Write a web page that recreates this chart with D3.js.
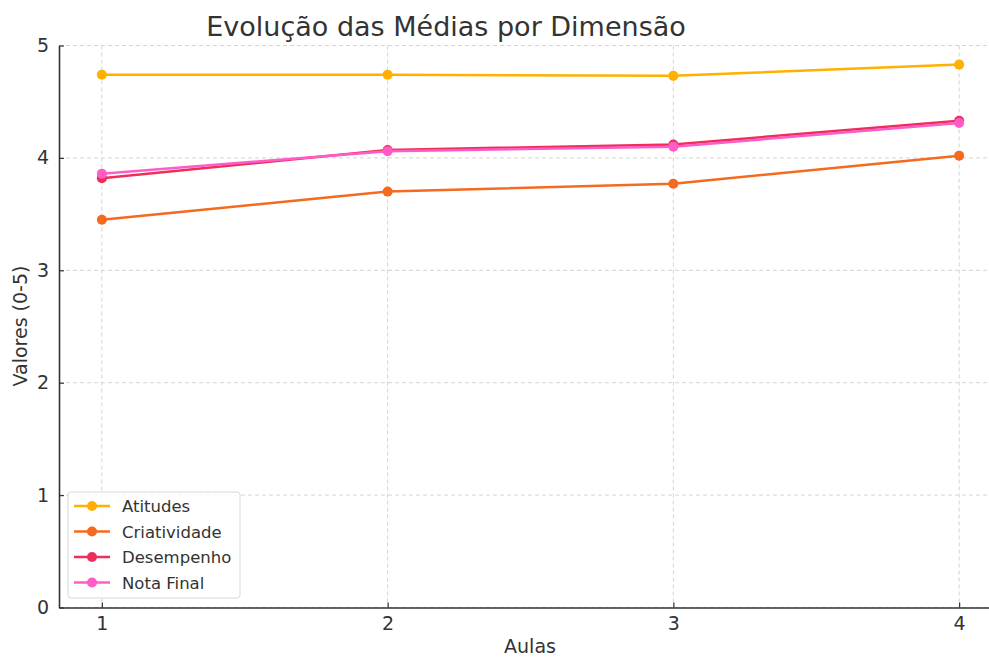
<!DOCTYPE html>
<html><head><meta charset="utf-8">
<script src="https://cdn.jsdelivr.net/npm/d3@7"></script>
<style>body{margin:0;background:#fff}svg{display:block;font-family:"DejaVu Sans",sans-serif}</style>
</head><body><svg id="c" width="989" height="657"></svg>
<script>
const aulas = [1, 2, 3, 4];
const atitudes = [4.74, 4.74, 4.73, 4.83];
const criatividade = [3.45, 3.70, 3.77, 4.02];
const desempenho = [3.82, 4.07, 4.12, 4.33];
const notaFinal = [3.86, 4.06, 4.10, 4.31];
const seriesNames = ["Atitudes", "Criatividade", "Desempenho", "Nota Final"];
const seriesColors = ["#FFB000", "#F46A1F", "#EE2E5A", "#FF5CC8"];
const yTicks = [0, 1, 2, 3, 4, 5];
const series = [atitudes, criatividade, desempenho, notaFinal];

const svg = d3.select("#c");
const L = 59, R = 1002, T = 45.5, B = 607.5;
const x = d3.scaleLinear().domain([0.85, 4.15]).range([L, R]);
const y = d3.scaleLinear().domain([0, 5]).range([B, T]);

// grid
const g = svg.append("g");
g.selectAll(".gx").data(aulas).join("line")
  .attr("x1", d => x(d)).attr("x2", d => x(d)).attr("y1", T).attr("y2", B)
  .attr("stroke", "#cfcfcf").attr("stroke-width", 0.9).attr("stroke-dasharray", "4,3");
g.selectAll(".gy").data(yTicks).join("line")
  .attr("x1", L).attr("x2", R).attr("y1", d => y(d)).attr("y2", d => y(d))
  .attr("stroke", "#cfcfcf").attr("stroke-width", 0.9).attr("stroke-dasharray", "4,3");

// axes
const xa = svg.append("g").attr("transform", `translate(0,${B})`)
  .call(d3.axisBottom(x).tickValues(aulas).tickFormat(d3.format("d")).tickSizeInner(-5).tickSizeOuter(0).tickPadding(9));
const ya = svg.append("g").attr("transform", `translate(${L},0)`)
  .call(d3.axisLeft(y).tickValues(yTicks).tickFormat(d3.format("d")).tickSizeInner(-5).tickSizeOuter(0).tickPadding(10));
[xa, ya].forEach(a => {
  a.select(".domain").attr("stroke", "#333").attr("stroke-width", 1.6);
  a.selectAll(".tick line").attr("stroke", "#333").attr("stroke-width", 1.2);
  a.selectAll(".tick text").attr("fill", "#333").style("font-size", "19px").style("font-family", "DejaVu Sans");
});

// lines
const line = d3.line().x((d, i) => x(aulas[i])).y(d => y(d));
series.forEach((s, k) => {
  svg.append("path").datum(s).attr("d", line).attr("fill", "none")
    .attr("stroke", seriesColors[k]).attr("stroke-width", 2.5);
  svg.selectAll(null).data(s).join("circle")
    .attr("cx", (d, i) => x(aulas[i])).attr("cy", d => y(d)).attr("r", 5)
    .attr("fill", seriesColors[k]);
});

// title & labels
svg.append("text").attr("x", 446).attr("y", 36).attr("text-anchor", "middle")
  .attr("fill", "#333").style("font-size", "27px").text("Evolução das Médias por Dimensão");
svg.append("text").attr("x", 530).attr("y", 653).attr("text-anchor", "middle")
  .attr("fill", "#333").style("font-size", "19px").text("Aulas");
svg.append("text").attr("transform", "translate(27,326) rotate(-90)").attr("text-anchor", "middle")
  .attr("fill", "#333").style("font-size", "19px").text("Valores (0-5)");

// legend
const lg = svg.append("g").attr("transform", "translate(68,492)");
lg.append("rect").attr("width", 172).attr("height", 106).attr("rx", 3)
  .attr("fill", "rgba(255,255,255,0.8)").attr("stroke", "#d8d8d8");
seriesNames.forEach((n, k) => {
  const yy = 14 + k * 25.5;
  lg.append("line").attr("x1", 6).attr("x2", 42).attr("y1", yy).attr("y2", yy)
    .attr("stroke", seriesColors[k]).attr("stroke-width", 2.5);
  lg.append("circle").attr("cx", 24).attr("cy", yy).attr("r", 5).attr("fill", seriesColors[k]);
  lg.append("text").attr("x", 54).attr("y", yy + 6).attr("fill", "#333")
    .style("font-size", "16.5px").text(n);
});
</script></body></html>
